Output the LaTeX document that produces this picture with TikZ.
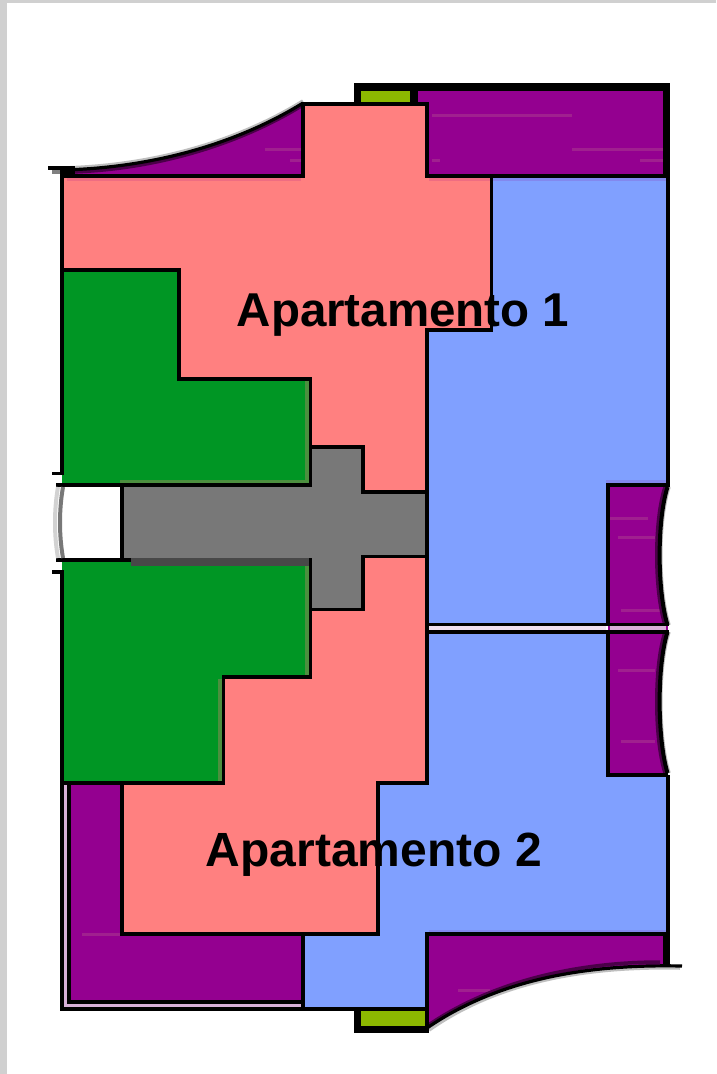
\documentclass[tikz,border=0pt]{standalone}
\usepackage{fontspec}
\setmainfont{Liberation Sans}
\usetikzlibrary{calc}
\definecolor{wall}{HTML}{D0D0D0}
\definecolor{apto}{HTML}{FF8080}
\definecolor{servico}{HTML}{80A0FF}
\definecolor{jardim}{HTML}{009624}
\definecolor{varanda}{HTML}{940090}
\definecolor{hall}{HTML}{787878}
\definecolor{caixa}{HTML}{8CB800}
\definecolor{pale}{HTML}{D8B0D8}
\definecolor{streakc}{HTML}{A0208F}
\tikzset{
  room/.style={draw=black, line width=3.6pt, miter limit=4},
  outline/.style={draw=black, line width=3.6pt},
  streak/.style={streakc, line width=3pt},
  fringe/.style={draw=gray!50, line width=3.5pt},
  inner/.style={draw=varanda!50!black, line width=3.5pt},
  edge/.style={draw=black, line width=3.2pt},
  label/.style={font=\bfseries\fontsize{47.5}{50}\selectfont, anchor=base, inner sep=0pt}
}

\begin{document}
\begin{tikzpicture}[x=1pt, y=-1pt]
      \useasboundingbox (0,0) rectangle (716,1074);
      \fill[white] (0,0) rectangle (716,1074);
      \fill[wall] (0,0) rectangle (716,3);
      \fill[wall] (0,0) rectangle (7,1074);

      % top block
      \fill[black] (354,83) rectangle (670,178);
      \fill[caixa] (361,91) rectangle (410,104);
      \fill[varanda] (418,91) rectangle (663,174);

      % curved balconies
      \fill[varanda] (62,176) -- (62,170) .. controls (150,168) and (235,145) .. (303,103) -- (303,176) -- cycle;
      \fill[varanda] (427,934) -- (666,934) -- (666,966) .. controls (590,964) and (500,978) .. (427,1028) -- cycle;
      \foreach \xa/\xb/\yy in {432/572/115, 572/663/149, 432/440/160, 640/663/160, 265/301/149, 290/301/160}
        \draw[streak] (\xa,\yy) -- (\xb,\yy);
      \draw[fringe] (62,168) .. controls (150,166) and (235,143) .. (303,101);
      \draw[inner] (70,172) .. controls (150,170) and (235,147) .. (303,105);
      \fill[black] (48,166) rectangle (75,170);
      \fill[black] (60,170) rectangle (75,174);
      \fill[gray] (52,170) rectangle (60,174);
      \draw[edge] (62,170) .. controls (150,168) and (235,145) .. (303,103);

      % blue areas
      \path[fill=servico] (427,330) -- (491,330) -- (491,176) -- (668,176) -- (668,624.5) -- (427,624.5) -- cycle;
      \path[fill=servico] (427,632) -- (668,632) -- (668,934) -- (427,934) -- (427,1009) -- (303,1009) -- (303,934) -- (378,934) -- (378,783) -- (427,783) -- cycle;
      \fill[servico!85!varanda] (493,178) rectangle (668,181);
      \fill[servico!85!varanda] (429,930) rectangle (666,932);
      \fill[servico!85!varanda] (606,480) rectangle (668,483);
      \fill[pale!40!white] (427,626) rectangle (606,630);

      % right balconies
      \path[fill=varanda] (608,485) -- (668,485) -- (668,775) -- (608,775) -- cycle;
      \fill[pale] (610,626) rectangle (666,630);
      \foreach \xa/\xb/\yy in {610/648/518, 618/655/537, 621/660/610, 618/655/670, 621/655/741}
        \draw[streak] (\xa,\yy) -- (\xb,\yy);
      \foreach \ya/\yb in {487/625, 632/773} {
        \fill[white] (668,\ya) .. controls (657,\ya+33) and (657,\yb-35) .. (668,\yb) -- (672,\yb) -- (672,\ya) -- cycle;
        \draw[fringe] ($(667,\ya)+(2,0)$) .. controls ($(656,\ya+33)+(2,0)$) and ($(656,\yb-35)+(2,0)$) .. ($(667,\yb)+(2,0)$);
        \draw[inner] ($(668,\ya)+(-3,0)$) .. controls ($(657,\ya+33)+(-3,0)$) and ($(657,\yb-35)+(-3,0)$) .. ($(668,\yb)+(-3,0)$);
        \draw[edge, line width=4pt] (667.5,\ya) .. controls (657,\ya+33) and (657,\yb-35) .. (667.5,\yb);
      }
      \draw[outline] (670,485) -- (608,485) -- (608,624.5);
      \draw[outline] (608,632) -- (608,775) -- (668,775);
      \draw[outline] (427,624.5) -- (669,624.5);
      \draw[outline] (427,632) -- (669,632);

      % bottom left balcony
      \fill[pale] (62,783) rectangle (303,1009);
      \fill[varanda] (69,783) rectangle (303,1002);
      \draw[streak] (82,934) -- (122,934);
      \draw[streak] (458,990) -- (490,990);
      \draw[outline] (69,783) -- (69,1002) -- (303,1002);
      \draw[outline] (62,783) -- (62,1009) -- (427,1009);
      \draw[outline] (303,934) -- (303,1009);

      % bottom right curve
      \draw[fringe] (680,968) .. controls (590,966) and (500,980) .. (429,1030);
      \draw[inner] (660,962) .. controls (590,962) and (500,976) .. (427,1026);
      \draw[edge] (682,966) .. controls (590,964) and (500,978) .. (427,1028);
      \draw[outline] (668,176) -- (668,485);
      \draw[outline] (427,1028) -- (427,934) -- (668,934) -- (668,775);
      \fill[black] (663,932) rectangle (670,966);

      % bottom box
      \fill[black] (354,1009) rectangle (429,1033);
      \fill[caixa] (361,1011) rectangle (425,1026);

      % hall
      \path[fill=hall] (122,485) -- (310.5,485) -- (310.5,447) -- (363,447) -- (363,492) -- (427,492) -- (427,556.5) -- (363,556.5) -- (363,609.5) -- (310.5,609.5) -- (310.5,560) -- (122,560) -- cycle;
      \fill[hall!60!black] (131,558) rectangle (309,566);

      % gardens
      \path[fill=jardim] (62,270) -- (179,270) -- (179,379) -- (310.5,379) -- (310.5,485) -- (62,485) -- cycle;
      \path[fill=jardim] (62,566) -- (310.5,566) -- (310.5,677) -- (223.5,677) -- (223.5,783) -- (62,783) -- cycle;
      \fill[jardim] (62,560) rectangle (131,566);
      \fill[jardim!70!apto] (305,381) rectangle (309,483);
      \fill[jardim!70!apto] (120,480) rectangle (309,483);
      \fill[jardim!70!apto] (305,566) rectangle (309,675);
      \fill[jardim!70!apto] (218,679) rectangle (222,781);

      % apartments
      \path[room, fill=apto] (62,176) -- (303,176) -- (303,104) -- (427,104) -- (427,176) -- (491.5,176) -- (491.5,330) -- (427,330) -- (427,492) -- (363,492) -- (363,447) -- (310.5,447) -- (310.5,379) -- (179,379) -- (179,270) -- (62,270) -- cycle;
      \path[room, fill=apto] (427,556.5) -- (363,556.5) -- (363,609.5) -- (310.5,609.5) -- (310.5,677) -- (223.5,677) -- (223.5,783) -- (122,783) -- (122,934) -- (378,934) -- (378,783) -- (427,783) -- cycle;
      \fill[apto!85!varanda] (67,178) rectangle (301,181);
      \fill[apto!85!varanda] (429,178) rectangle (489.5,181);

      % outlines of hall and gardens
      \draw[outline] (491.5,176) -- (668,176);
      \draw[outline] (427,330) -- (427,624.5);
      \draw[outline] (62,176) -- (62,473.5) -- (52,473.5);
      \draw[outline] (52,572) -- (62,572) -- (62,783) -- (223.5,783);
      \draw[outline] (56,485) -- (310.5,485) -- (310.5,447);
      \draw[outline] (56,560) -- (131,560);
      \draw[outline] (122,485) -- (122,560);
      \draw[outline] (310.5,558) -- (310.5,609.5);
      \draw[outline] (427,492) -- (427,556.5);

      % door
      \draw[gray!35, line width=4pt] (58,487) .. controls (54,510) and (54,535) .. (58,558);
      \draw[hall, line width=4pt] (63,487) .. controls (59,510) and (59,535) .. (63,558);

      \node[label] (apto1) at (403,326) {Apartamento 1};
      \node[label, font=\bfseries\fontsize{48}{50}\selectfont] (apto2) at (374,866) {Apartamento 2};
\end{tikzpicture}
\end{document}
